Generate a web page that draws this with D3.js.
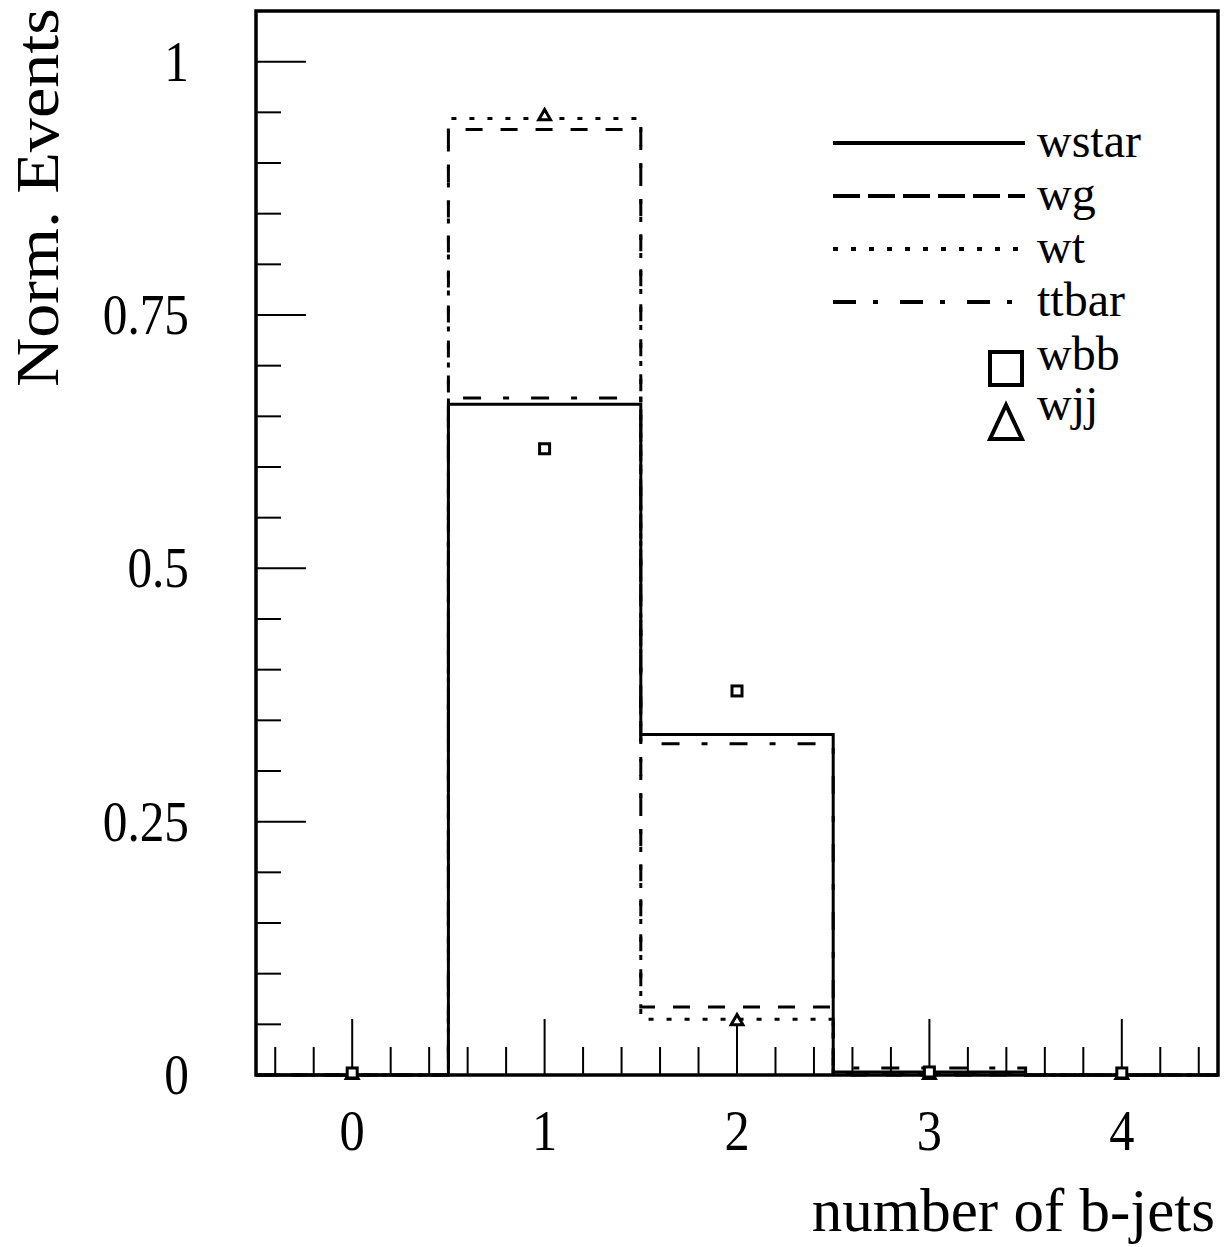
<!DOCTYPE html>
<html>
<head>
<meta charset="utf-8">
<script src="https://cdn.jsdelivr.net/npm/d3@7"></script>
<style>
  body { margin: 0; background: #fff; }
  svg { font-family: "Liberation Serif", "Times New Roman", serif; }
</style>
</head>
<body>
<div id="chart"></div>
<script>
// bin contents (normalised)
const bins  = [0, 1, 2, 3, 4];
const wstar = [0, 0.662, 0.336, 0.003, 0];
const wg    = [0, 0.933, 0.067, 0, 0];
const wt    = [0, 0.944, 0.055, 0.001, 0];
const ttbar = [0, 0.668, 0.327, 0.007, 0];
const wbb   = [0.002, 0.618, 0.379, 0.003, 0.002];
const wjj   = [0, 0.946, 0.053, 0, 0];
const yTickLabels = ["0", "0.25", "0.5", "0.75", "1"];

const width = 1230, height = 1247;
const x = d3.scaleLinear().domain([-0.5, 4.5]).range([256, 1218]);
const y = d3.scaleLinear().domain([0, 1.05]).range([1075, 11]);

const svg = d3.select("#chart").append("svg")
  .attr("width", width).attr("height", height);

// histogram outline as steps
function steps(vals) {
  const pts = [];
  vals.forEach((v, i) => {
    pts.push([x(bins[i] - 0.5), y(v)]);
    pts.push([x(bins[i] + 0.5), y(v)]);
  });
  return pts;
}
const line = d3.line();

const hists = [
  { name: "wstar", vals: wstar, dash: null,           ldash: null },
  { name: "wg",    vals: wg,    dash: "17,18",        ldash: "27,8" },
  { name: "wt",    vals: wt,    dash: "5,13",         ldash: "5,13" },
  { name: "ttbar", vals: ttbar, dash: "18,22,6,22",   ldash: "23,17,5,22" }
];
// draw order: wg on top so its dashes dominate shared edges
const drawOrder = [hists[2], hists[3], hists[0], hists[1]];

svg.selectAll("path.hist")
  .data(drawOrder)
  .join("path")
  .attr("class", "hist")
  .attr("d", d => line(steps(d.vals)))
  .attr("fill", "none")
  .attr("stroke", "black")
  .attr("stroke-width", 3)
  .attr("stroke-dasharray", d => d.dash);

// axis ticks
const g = svg.append("g").attr("stroke", "black");
d3.range(0, 1.0501, 0.05).forEach((v, i) => {
  const major = i % 5 === 0;
  g.append("line")
    .attr("x1", x(-0.5)).attr("x2", x(-0.5) + (major ? 50 : 25))
    .attr("y1", y(v)).attr("y2", y(v))
    .attr("stroke-width", 2);
});
d3.range(-0.4, 4.41, 0.2).forEach(v => {
  const major = Math.abs(v - Math.round(v)) < 1e-6;
  g.append("line")
    .attr("x1", x(v)).attr("x2", x(v))
    .attr("y1", y(0)).attr("y2", y(0) - (major ? 56 : 28))
    .attr("stroke-width", 2);
});

// frame
svg.append("rect")
  .attr("x", x(-0.5)).attr("y", y(1.05))
  .attr("width", x(4.5) - x(-0.5)).attr("height", y(0) - y(1.05))
  .attr("fill", "none").attr("stroke", "black").attr("stroke-width", 3.5);

// markers
const tri = d3.symbol().type(d3.symbolTriangle).size(60);
svg.selectAll("path.wjj")
  .data(wjj)
  .join("path")
  .attr("class", "wjj")
  .attr("d", tri)
  .attr("transform", (d, i) => `translate(${x(bins[i])},${y(d)})`)
  .attr("fill", "white").attr("stroke", "black").attr("stroke-width", 3);
svg.selectAll("rect.wbb")
  .data(wbb)
  .join("rect")
  .attr("class", "wbb")
  .attr("x", (d, i) => x(bins[i]) - 5).attr("y", d => y(d) - 5)
  .attr("width", 10).attr("height", 10)
  .attr("fill", "white").attr("stroke", "black").attr("stroke-width", 3);

// tick labels (slightly narrow glyphs like the original)
svg.selectAll("text.ylab")
  .data(yTickLabels)
  .join("text")
  .attr("class", "ylab")
  .attr("transform", (d, i) => `translate(189,${y(i * 0.25) + 19}) scale(0.88,1)`)
  .attr("text-anchor", "end")
  .attr("font-size", 56)
  .text(d => d);
svg.selectAll("text.xlab")
  .data(bins)
  .join("text")
  .attr("class", "xlab")
  .attr("transform", d => `translate(${x(d)},1150) scale(0.9,1)`)
  .attr("text-anchor", "middle")
  .attr("font-size", 56)
  .text(d => d);

// axis titles
svg.append("text")
  .attr("transform", "translate(58,387) rotate(-90) scale(1.1,1)")
  .attr("font-size", 62)
  .text("Norm. Events");
svg.append("text")
  .attr("x", 1215).attr("y", 1231)
  .attr("text-anchor", "end")
  .attr("font-size", 61)
  .text("number of b-jets");

// legend
const leg = svg.append("g");
hists.forEach((h, i) => {
  const ly = 143 + i * 53;
  leg.append("line")
    .attr("x1", 833).attr("x2", 1025).attr("y1", ly).attr("y2", ly)
    .attr("stroke", "black").attr("stroke-width", 4)
    .attr("stroke-dasharray", h.ldash);
  leg.append("text")
    .attr("x", 1037).attr("y", ly + 14)
    .attr("font-size", 48)
    .text(h.name);
});
leg.append("rect")
  .attr("x", 990).attr("y", 352).attr("width", 32).attr("height", 33)
  .attr("fill", "none").attr("stroke", "black").attr("stroke-width", 4);
leg.append("text").attr("x", 1037).attr("y", 370).attr("font-size", 48).text("wbb");
leg.append("path")
  .attr("d", "M990,439 L1022,439 L1006,405 Z")
  .attr("fill", "none").attr("stroke", "black").attr("stroke-width", 4);
leg.append("text").attr("x", 1037).attr("y", 420).attr("font-size", 48).text("wjj");
</script>
</body>
</html>
